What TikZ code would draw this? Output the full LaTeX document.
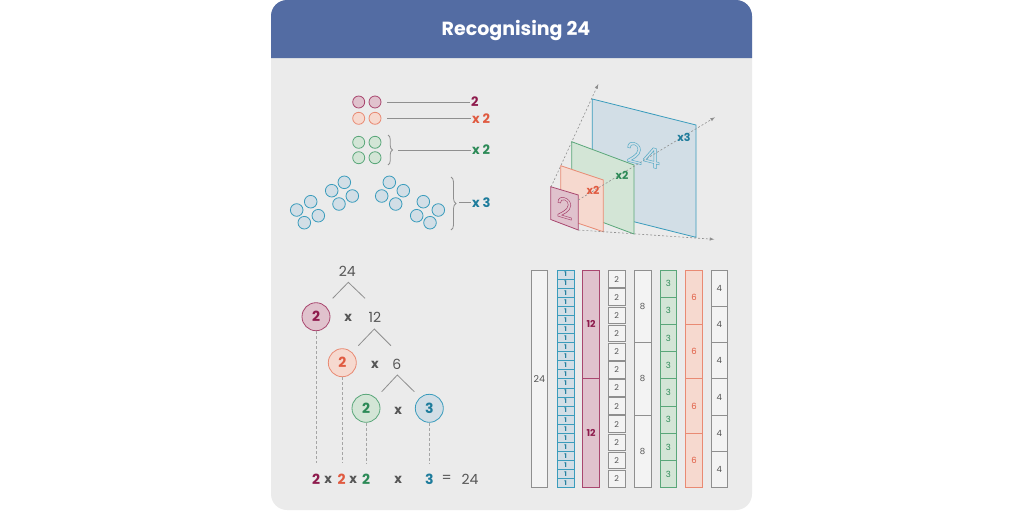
\documentclass[tikz,border=0pt]{standalone}
\usepackage{fontspec}
\setmainfont{Poppins}
\usetikzlibrary{decorations.pathreplacing, arrows.meta, positioning, calc}

\definecolor{panel}{HTML}{EBEBEB}
\definecolor{banner}{HTML}{536CA3}
\definecolor{plum}{HTML}{8E1B4D}
\definecolor{plumline}{HTML}{A9476F}
\definecolor{plumfill}{HTML}{E0C2CD}
\definecolor{coral}{HTML}{E05A40}
\definecolor{coralline}{HTML}{E98A73}
\definecolor{coralfill}{HTML}{F6D9CF}
\definecolor{leaf}{HTML}{2C8A57}
\definecolor{leafline}{HTML}{5AA77A}
\definecolor{leaffill}{HTML}{D3E5D6}
\definecolor{sea}{HTML}{1E7C9C}
\definecolor{sealine}{HTML}{3A9CBC}
\definecolor{seafill}{HTML}{D2DEE6}
\definecolor{slate}{HTML}{555555}
\definecolor{slateline}{HTML}{8F8F8F}
\definecolor{slatefill}{HTML}{F3F3F3}

\newcommand\hollow[1]{\special{pdf:literal direct 1 Tr 0.5 w}#1\special{pdf:literal direct 0 Tr}}

\begin{document}
\begin{tikzpicture}[x=1pt, y=-1pt, font=\small,
    counter/.style={circle, draw=#1line, fill=#1fill, line width=0.8pt, minimum size=12pt, inner sep=0pt},
    tag/.style={text=#1, inner sep=1pt, font=\bfseries\fontsize{13}{13}\selectfont},
    rule/.style={draw=slateline, line width=0.8pt},
    plane/.style={draw=#1line, fill=#1fill, line width=0.8pt},
    guide/.style={->, >=latex, draw=slateline, dash pattern=on 2pt off 2pt, line width=0.6pt},
    ball/.style={circle, draw=#1line, fill=#1fill, text=#1, line width=0.8pt, minimum size=28pt, inner sep=0pt, font=\bfseries\fontsize{14}{14}\selectfont},
    num/.style={text=slate, inner sep=0pt, font=\fontsize{14}{14}\selectfont},
    times/.style={text=slate, inner sep=0pt, font=\bfseries\fontsize{13}{13}\selectfont},
    branch/.style={draw=slateline, line width=0.8pt},
    drop/.style={draw=slateline!80, line width=0.6pt, dash pattern=on 3pt off 2pt},
    cell/.style={rectangle, draw=#1line, fill=#1fill, text=#1, line width=0.8pt, minimum width=16.6pt, inner sep=0pt}
]
    \useasboundingbox (0,0) rectangle (1024,512);
    % panel and title bar
    \fill[panel, rounded corners=16pt] (271,0) rectangle (752,510);
    \fill[banner] (271,58) {[rounded corners=16pt] -- (271,0) -- (752,0)} -- (752,58) -- cycle;
    \node[text=white, font=\bfseries\fontsize{19}{19}\selectfont] (title) at (516,30) {Recognising 24};

    % counters
    \node[counter=plum] (m1) at (358.7,102) {};
    \node[counter=plum] (m2) at (375,102) {};
    \node[counter=coral] (k1) at (358.7,118.3) {};
    \node[counter=coral] (k2) at (375,118.3) {};
    \node[counter=leaf] (g1) at (358.7,142.3) {};
    \node[counter=leaf] (g2) at (375,142.3) {};
    \node[counter=leaf] (g3) at (358.7,157.7) {};
    \node[counter=leaf] (g4) at (375,157.7) {};
    \foreach \p [count=\i] in {(296.7,210),(310.7,201.7),(318.3,215.7),(304.3,222.7),
        (331.7,190.7),(344.3,182.3),(352.3,196),(339,204),
        (381.7,196),(389.3,182.3),(403.3,190.7),(395.7,204),
        (416.7,215.7),(423.3,201.7),(438.3,210),(430,222.7)}
        \node[counter=sea, minimum size=12.6pt] (s\i) at \p {};

    \node[tag=plum, anchor=west] (lab-m) at (470,102) {2};
    \node[tag=coral, anchor=west] (lab-k) at (471,118.3) {x 2};
    \node[tag=leaf, anchor=west] (lab-g) at (471,150) {x 2};
    \node[tag=sea, anchor=west] (lab-s) at (471,202.7) {x 3};
    \draw[rule] ([xshift=5.7pt]m2.east) -- (lab-m.west);
    \draw[rule] ([xshift=5.7pt]k2.east) -- (lab-k.west);
    \draw[rule, decorate, decoration={brace, amplitude=4.5pt}] (388,135) -- (388,165);
    \coordinate (gbrace) at (398,150);
    \draw[rule] (gbrace) -- (lab-g.west);
    \draw[rule, decorate, decoration={brace, amplitude=5pt}] (451,177) -- (451,230);
    \coordinate (sbrace) at (459,202.7);
    \draw[rule] (sbrace) -- (lab-s.west);

    % growing squares
    \coordinate (up0) at (551,187);
    \coordinate (up1) at (598.3,84);
    \coordinate (mid0) at (578.3,200);
    \coordinate (mid1) at (715,117.3);
    \coordinate (low0) at (578.3,230);
    \coordinate (low1) at (714.3,239.3);
    \draw[guide] (up0) -- (up1);
    \filldraw[plane=sea] (592.3,99) -- (696,125) -- (696,237.3) -- (592.3,211.3) -- cycle;
    \filldraw[plane=leaf] (571.7,141.7) -- (634,165) -- (634,234) -- (571.7,210.7) -- cycle;
    \filldraw[plane=coral] (560.7,165.7) -- (603.3,180) -- (603.3,231.7) -- (560.7,217.4) -- cycle;
    \filldraw[plane=plum] (550.7,186.7) -- (578.3,195) -- (578.3,230) -- (550.7,219.5) -- cycle;
    \draw[guide] (mid0) -- (mid1);
    \draw[guide] (low0) -- (low1);
    \node[text=plumline, yslant=-0.3, font=\fontsize{28}{28}\selectfont] (big2) at (564.5,208) {\hollow{2}};
    \node[text=sealine!85, yslant=-0.25, font=\fontsize{28}{28}\selectfont] (big24) at (643,155) {\hollow{24}};
    \node[tag=coral, font=\bfseries\fontsize{11}{11}\selectfont] (x-k) at (593,190.5) {x2};
    \node[tag=leaf, font=\bfseries\fontsize{11}{11}\selectfont] (x-g) at (622,175) {x2};
    \node[tag=sea, font=\bfseries\fontsize{11}{11}\selectfont] (x-s) at (684,137.3) {x3};

    % factor tree
    \node[num] (t24) at (347.3,271) {24};
    \node[ball=plum] (p2) at (316,316.7) {2};
    \node[times] (x1) at (348.3,318.3) {x};
    \node[num] (t12) at (375,317.7) {12};
    \node[ball=coral] (c2) at (342.3,362.7) {2};
    \node[times] (x2) at (375,365) {x};
    \node[num] (t6) at (396.7,364.3) {6};
    \node[ball=leaf] (l2) at (366,408.3) {2};
    \node[times] (x3) at (398.3,410.7) {x};
    \node[ball=sea] (b3) at (429.3,408.3) {3};
    \coordinate (a1) at (348.3,282.3);
    \coordinate (a1l) at (332.7,298.3);
    \coordinate (a1r) at (365,298.3);
    \coordinate (a2) at (374.3,329);
    \coordinate (a2l) at (358.3,345.7);
    \coordinate (a2r) at (391,345.7);
    \coordinate (a3) at (397.3,375);
    \coordinate (a3l) at (381.7,391.7);
    \coordinate (a3r) at (414.3,391.7);
    \draw[branch] (a1l) -- (a1) -- (a1r);
    \draw[branch] (a2l) -- (a2) -- (a2r);
    \draw[branch] (a3l) -- (a3) -- (a3r);

    % product line
    \node[tag=plum, font=\bfseries\fontsize{14}{14}\selectfont] (e1) at (316,479) {2};
    \node[times] (ex1) at (328.3,479.5) {x};
    \node[tag=coral, font=\bfseries\fontsize{14}{14}\selectfont] (e2) at (341.7,479) {2};
    \node[times] (ex2) at (353.3,479.5) {x};
    \node[tag=leaf, font=\bfseries\fontsize{14}{14}\selectfont] (e3) at (366,479) {2};
    \node[times] (ex3) at (398.3,479.5) {x};
    \node[tag=sea, font=\bfseries\fontsize{14}{14}\selectfont] (e4) at (429.3,479) {3};
    \node[num] (eq) at (446.7,479) {=};
    \node[num] (e24) at (470,479) {24};
    \draw[drop] (p2.south) -- (p2.south |- 0,463);
    \draw[drop] (c2.south) -- (c2.south |- 0,463);
    \draw[drop] (l2.south) -- (l2.south |- 0,463);
    \draw[drop] (b3.south) -- (b3.south |- 0,463);

    % bars
    \foreach \val/\k/\c/\x/\fs/\g/\wt in {24/1/slate/531/9.5/0/\mdseries, 1/24/sea/557.3/6.5/0/\bfseries,
        12/2/plum/582.7/9.5/0/\bfseries, 2/12/slate/608.3/8/1.4/\mdseries, 8/3/slate/634.3/8.5/0/\mdseries,
        3/8/leaf/660/8.5/0/\mdseries, 6/4/coral/685.7/8.5/0/\mdseries, 4/6/slate/711/8.5/0/\mdseries} {
        \pgfmathsetmacro\h{217.7/\k}
        \foreach \i in {1,...,\k}
            \node[cell=\c, minimum height={\h pt-\g pt}, font=\wt\fontsize{\fs}{\fs}\selectfont]
                (bar\val-\i) at ({\x+8.3},{270+(\i-0.5)*\h}) {\val};
    }
\end{tikzpicture}
\end{document}
